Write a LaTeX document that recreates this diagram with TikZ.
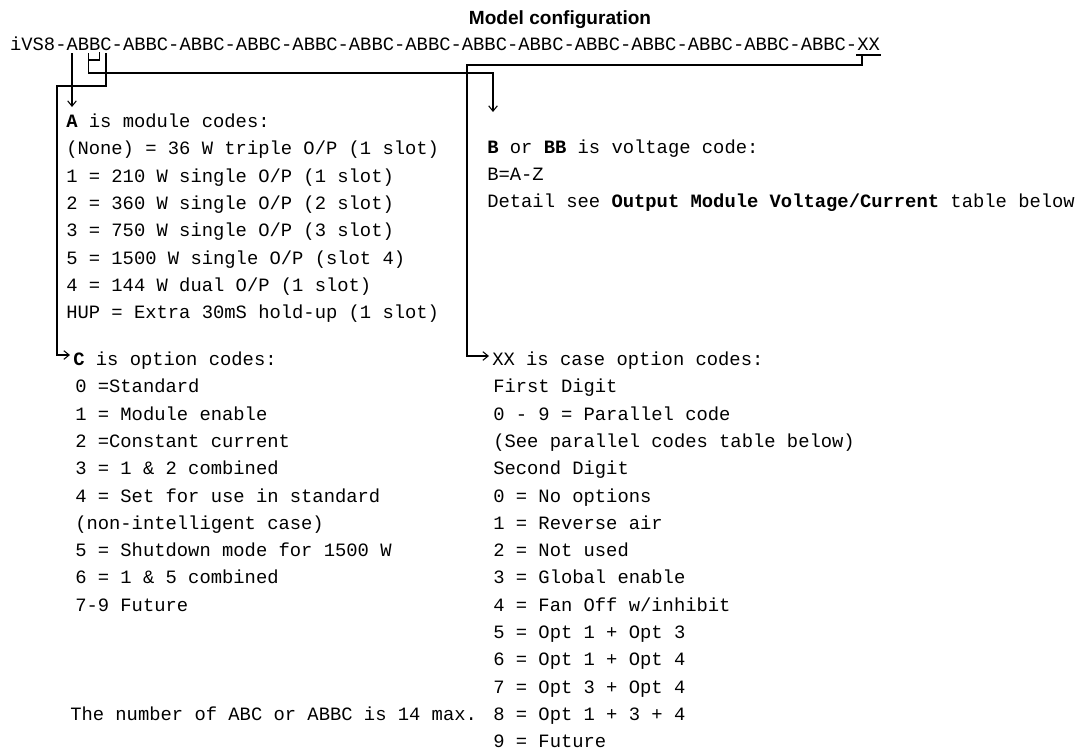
\documentclass[tikz,border=0pt]{standalone}
\usepackage{fontspec}
\setmainfont{Liberation Serif}
\newfontfamily\codefont{Liberation Mono}
\newfontfamily\titlefont{Liberation Sans}
\usetikzlibrary{arrows.meta}
\begin{document}
\begin{tikzpicture}[x=0.75pt,y=-0.75pt,
  txt/.style={anchor=base west, inner sep=0pt, font=\codefont\fontsize{14.12}{16}\selectfont},
  conn/.style={line width=0.9pt, black, line cap=rect},
  arr/.style={line width=0.9pt, black, -{Straight Barb[length=4pt,width=6.5pt,line width=0.8pt]}}]
\useasboundingbox (0,0) rectangle (1091,753);
% title and code string
\node[anchor=base, inner sep=0pt, font=\titlefont\bfseries\fontsize{14.3}{16}\selectfont] (title) at (560,24) {Model configuration};
\node[txt] (code) at (9.8,50) {iVS8-ABBC-ABBC-ABBC-ABBC-ABBC-ABBC-ABBC-ABBC-ABBC-ABBC-ABBC-ABBC-ABBC-ABBC-XX};
% connector points
\coordinate (aTop) at (72,53);
\coordinate (b2L) at (88.5,53);
\coordinate (b2R) at (99.5,53);
\coordinate (b2Lm) at (88.5,60);
\coordinate (b2Rm) at (99.5,60);
\coordinate (b2Low) at (88.5,73);
\coordinate (bCorner) at (493,73);
\coordinate (cTop) at (106,53);
\coordinate (cBend1) at (106,86);
\coordinate (cBend2) at (57,86);
\coordinate (cCorner) at (57,355);
\coordinate (xxL) at (857,55);
\coordinate (xxR) at (880,55);
\coordinate (xxTick) at (862,55);
\coordinate (xxBend1) at (862,65);
\coordinate (xxBend2) at (467,65);
\coordinate (xxCorner) at (467,356);
% left column: A
\node[txt] (a0) at (66,127.5) {{\bfseries A} is module codes:};
\node[txt] (a1) at (66,154.8) {(None) = 36 W triple O/P (1 slot)};
\node[txt] (a2) at (66,182.1) {1 = 210 W single O/P (1 slot)};
\node[txt] (a3) at (66,209.4) {2 = 360 W single O/P (2 slot)};
\node[txt] (a4) at (66,236.7) {3 = 750 W single O/P (3 slot)};
\node[txt] (a5) at (66,264.0) {5 = 1500 W single O/P (slot 4)};
\node[txt] (a6) at (66,291.3) {4 = 144 W dual O/P (1 slot)};
\node[txt] (a7) at (66,318.6) {HUP = Extra 30mS hold-up (1 slot)};
% left column: C
\node[txt] (c0) at (73,365.5) {{\bfseries C} is option codes:};
\node[txt] (c1) at (75,392.8) {0 =Standard};
\node[txt] (c2) at (75,420.1) {1 = Module enable};
\node[txt] (c3) at (75,447.4) {2 =Constant current};
\node[txt] (c4) at (75,474.7) {3 = 1 \& 2 combined};
\node[txt] (c5) at (75,502.0) {4 = Set for use in standard};
\node[txt] (c6) at (75,529.3) {(non-intelligent case)};
\node[txt] (c7) at (75,556.6) {5 = Shutdown mode for 1500 W};
\node[txt] (c8) at (75,583.9) {6 = 1 \& 5 combined};
\node[txt] (c9) at (75,611.2) {7-9 Future};
\node[txt] (note) at (70,720.4) {The number of ABC or ABBC is 14 max.};
% right column: B
\node[txt] (b0) at (487,153.0) {{\bfseries B} or {\bfseries BB} is voltage code:};
\node[txt] (b1) at (487,180.3) {B=A-Z};
\node[txt] (b2) at (487,207.6) {Detail see {\bfseries Output Module Voltage/Current} table below};
% right column: XX
\node[txt] (x0) at (492,365.5) {XX is case option codes:};
\node[txt] (x1) at (493,392.8) {First Digit};
\node[txt] (x2) at (493,420.1) {0 - 9 = Parallel code};
\node[txt] (x3) at (493,447.4) {(See parallel codes table below)};
\node[txt] (x4) at (493,474.7) {Second Digit};
\node[txt] (x5) at (493,502.0) {0 = No options};
\node[txt] (x6) at (493,529.3) {1 = Reverse air};
\node[txt] (x7) at (493,556.6) {2 = Not used};
\node[txt] (x8) at (493,583.9) {3 = Global enable};
\node[txt] (x9) at (493,611.2) {4 = Fan Off w/inhibit};
\node[txt] (x10) at (493,638.5) {5 = Opt 1 + Opt 3};
\node[txt] (x11) at (493,665.8) {6 = Opt 1 + Opt 4};
\node[txt] (x12) at (493,693.1) {7 = Opt 3 + Opt 4};
\node[txt] (x13) at (493,720.4) {8 = Opt 1 + 3 + 4};
\node[txt] (x14) at (493,747.7) {9 = Future};
% arrow end points
\coordinate (aEnd) at (72,107);
\coordinate (bEnd) at (493,112);
\coordinate (cEnd) at (70,355);
\coordinate (xxEnd) at (489,356);
% connectors
\draw[arr] (aTop) -- (aEnd);
\draw[conn] (b2R) -- (b2Rm) -- (b2Lm);
\draw[arr] (b2L) -- (b2Low) -- (bCorner) -- (bEnd);
\draw[arr] (cTop) -- (cBend1) -- (cBend2) -- (cCorner) -- (cEnd);
\draw[conn] (xxL) -- (xxR);
\draw[arr] (xxTick) -- (xxBend1) -- (xxBend2) -- (xxCorner) -- (xxEnd);
\end{tikzpicture}
\end{document}
